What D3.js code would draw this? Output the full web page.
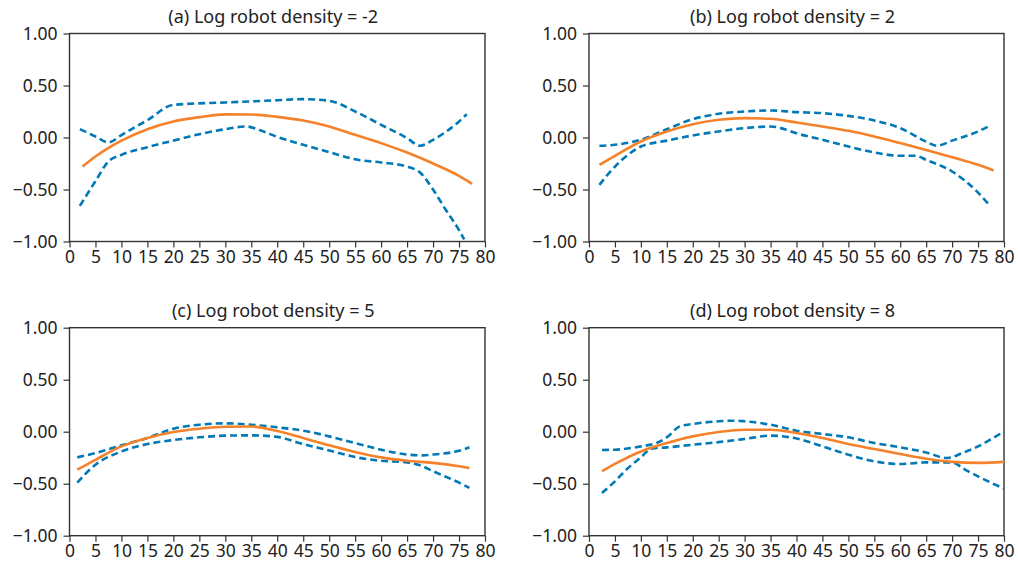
<!DOCTYPE html>
<html><head><meta charset="utf-8">
<script src="https://cdn.jsdelivr.net/npm/d3@7"></script>
<style>body{margin:0;background:#fff}svg{display:block}</style>
</head><body>
<svg id="c" width="1018" height="570"></svg>
<script>
// ---- data ----
const panelTitles = ["(a) Log robot density = -2","(b) Log robot density = 2","(c) Log robot density = 5","(d) Log robot density = 8"];
const xTicks = [0,5,10,15,20,25,30,35,40,45,50,55,60,65,70,75,80];
const yTicks = [-1,-0.5,0,0.5,1];

// panel a
const aEst = [[2.5,-0.28],[5,-0.183],[7.5,-0.10],[10,-0.03],[15,0.08],[20,0.154],[25,0.196],[30,0.222],[35,0.221],[40,0.198],[45,0.163],[50,0.106],[55,0.026],[60,-0.054],[65,-0.145],[70,-0.25],[75,-0.37],[77.5,-0.445]];
const aUp = [[2,0.08],[5,0.01],[7.5,-0.048],[10,0.024],[15,0.167],[20,0.314],[30,0.337],[40,0.358],[45,0.369],[50,0.353],[55,0.25],[60,0.122],[65,-0.006],[67.5,-0.08],[70,-0.022],[75,0.154],[76.5,0.224]];
const aLo = [[2,-0.657],[5,-0.42],[7.5,-0.23],[10,-0.167],[15,-0.093],[20,-0.03],[25,0.032],[30,0.08],[34,0.106],[37,0.064],[40,0.006],[45,-0.07],[50,-0.14],[55,-0.21],[60,-0.24],[65,-0.28],[67.5,-0.337],[70,-0.5],[72.5,-0.70],[75,-0.89],[76,-0.98]];
// panel b
const bEst = [[2,-0.263],[5,-0.176],[10,-0.038],[15,0.058],[20,0.128],[25,0.17],[30,0.186],[35,0.18],[40,0.144],[45,0.106],[50,0.064],[55,0.01],[60,-0.054],[65,-0.12],[70,-0.19],[75,-0.263],[78,-0.317]];
const bUp = [[2,-0.08],[5,-0.07],[10,-0.022],[15,0.08],[20,0.176],[25,0.228],[30,0.25],[35,0.26],[40,0.244],[45,0.234],[50,0.208],[55,0.163],[60,0.09],[65,-0.04],[67,-0.08],[70,-0.03],[75,0.058],[77,0.106]];
const bLo = [[2,-0.455],[5,-0.28],[7.5,-0.167],[10,-0.087],[15,-0.03],[20,0.02],[25,0.058],[30,0.09],[35,0.106],[37,0.09],[40,0.04],[45,-0.022],[50,-0.087],[55,-0.144],[60,-0.176],[63,-0.176],[65,-0.215],[70,-0.327],[75,-0.53],[77,-0.64]];
// panel c
const cEst = [[1.5,-0.365],[5,-0.27],[10,-0.141],[15,-0.06],[20,-0.003],[25,0.029],[30,0.048],[35,0.05],[40,0.006],[45,-0.06],[50,-0.131],[55,-0.195],[60,-0.247],[65,-0.28],[70,-0.30],[75,-0.333],[77,-0.35]];
const cUp = [[1.5,-0.247],[5,-0.205],[10,-0.131],[15,-0.06],[20,0.029],[25,0.067],[30,0.08],[35,0.067],[40,0.042],[45,0.01],[50,-0.045],[55,-0.11],[60,-0.173],[65,-0.22],[68,-0.228],[70,-0.22],[75,-0.183],[77,-0.15]];
const cLo = [[1.5,-0.49],[5,-0.317],[10,-0.19],[15,-0.119],[20,-0.08],[25,-0.054],[30,-0.038],[35,-0.035],[40,-0.05],[45,-0.119],[50,-0.18],[55,-0.244],[60,-0.28],[65,-0.295],[68,-0.333],[70,-0.38],[75,-0.49],[77,-0.54]];
// panel d
const dEst = [[2.5,-0.38],[5,-0.31],[10,-0.19],[15,-0.109],[20,-0.045],[25,-0.003],[30,0.019],[35,0.019],[40,-0.013],[45,-0.06],[50,-0.119],[55,-0.167],[60,-0.215],[65,-0.26],[70,-0.29],[75,-0.30],[80,-0.29]];
const dUp = [[2.5,-0.176],[5,-0.173],[10,-0.141],[13,-0.109],[15,-0.054],[17.5,0.051],[20,0.074],[25,0.10],[28,0.106],[30,0.10],[35,0.067],[40,0.01],[45,-0.022],[50,-0.054],[55,-0.109],[60,-0.15],[65,-0.2],[69,-0.253],[72,-0.205],[75,-0.141],[80,0.003]];
const dLo = [[2.5,-0.59],[5,-0.478],[7.5,-0.35],[10,-0.247],[12,-0.163],[15,-0.151],[20,-0.125],[25,-0.10],[30,-0.07],[35,-0.038],[40,-0.065],[45,-0.141],[50,-0.221],[55,-0.285],[60,-0.311],[65,-0.295],[70,-0.295],[72.5,-0.365],[75,-0.43],[80,-0.548]];

const panels = [
  {title: panelTitles[0], est: aEst, up: aUp, lo: aLo},
  {title: panelTitles[1], est: bEst, up: bUp, lo: bLo},
  {title: panelTitles[2], est: cEst, up: cUp, lo: cLo},
  {title: panelTitles[3], est: dEst, up: dUp, lo: dLo}
];

// ---- layout ----
const svg = d3.select("#c");
const FONT = "'Noto Sans', 'Open Sans', sans-serif";
const ORANGE = "#F5822A", BLUE = "#0079B6", AXIS = "#333";
const boxes = [
  {x0: 69.5, x1: 485, y0: 33.5, y1: 241.5},
  {x0: 589, x1: 1004, y0: 33.5, y1: 241.5},
  {x0: 69.5, x1: 485, y0: 327.7, y1: 535.7},
  {x0: 589, x1: 1004, y0: 327.7, y1: 535.7}
];

panels.forEach((p, i) => {
  const b = boxes[i];
  const x = d3.scaleLinear().domain([0, 80]).range([b.x0, b.x1]);
  const y = d3.scaleLinear().domain([-1, 1]).range([b.y1, b.y0]);
  const g = svg.append("g");

  // title
  g.append("text").attr("x", (b.x0 + b.x1) / 2 - 4).attr("y", b.y0 - 11)
    .attr("text-anchor", "middle").attr("font-family", FONT).attr("font-size", 18)
    .attr("fill", "#222").text(p.title);

  // axes
  const xa = g.append("g").attr("transform", `translate(0,${b.y1})`)
    .call(d3.axisBottom(x).tickValues(xTicks).tickSize(6).tickPadding(3).tickFormat(d3.format("d")));
  const ya = g.append("g").attr("transform", `translate(${b.x0},0)`)
    .call(d3.axisLeft(y).tickValues(yTicks).tickSize(6).tickPadding(6).tickFormat(d3.format(".2f")));
  [xa, ya].forEach(a => {
    a.selectAll("text").attr("font-family", FONT).attr("font-size", 17.5).attr("fill", "#222");
    a.selectAll("line").attr("stroke", AXIS).attr("stroke-width", 1.2);
    a.select(".domain").remove();
  });
  // frame
  g.append("rect").attr("x", b.x0).attr("y", b.y0).attr("width", b.x1 - b.x0).attr("height", b.y1 - b.y0)
    .attr("fill", "none").attr("stroke", AXIS).attr("stroke-width", 1.4);

  const line = d3.line().x(d => x(d[0])).y(d => y(d[1])).curve(d3.curveMonotoneX);
  g.append("path").datum(p.up).attr("d", line).attr("fill", "none")
    .attr("stroke", BLUE).attr("stroke-width", 2.6).attr("stroke-dasharray", "7,4");
  g.append("path").datum(p.lo).attr("d", line).attr("fill", "none")
    .attr("stroke", BLUE).attr("stroke-width", 2.6).attr("stroke-dasharray", "7,4");
  g.append("path").datum(p.est).attr("d", line).attr("fill", "none")
    .attr("stroke", ORANGE).attr("stroke-width", 2.6);
});
</script>
</body></html>
